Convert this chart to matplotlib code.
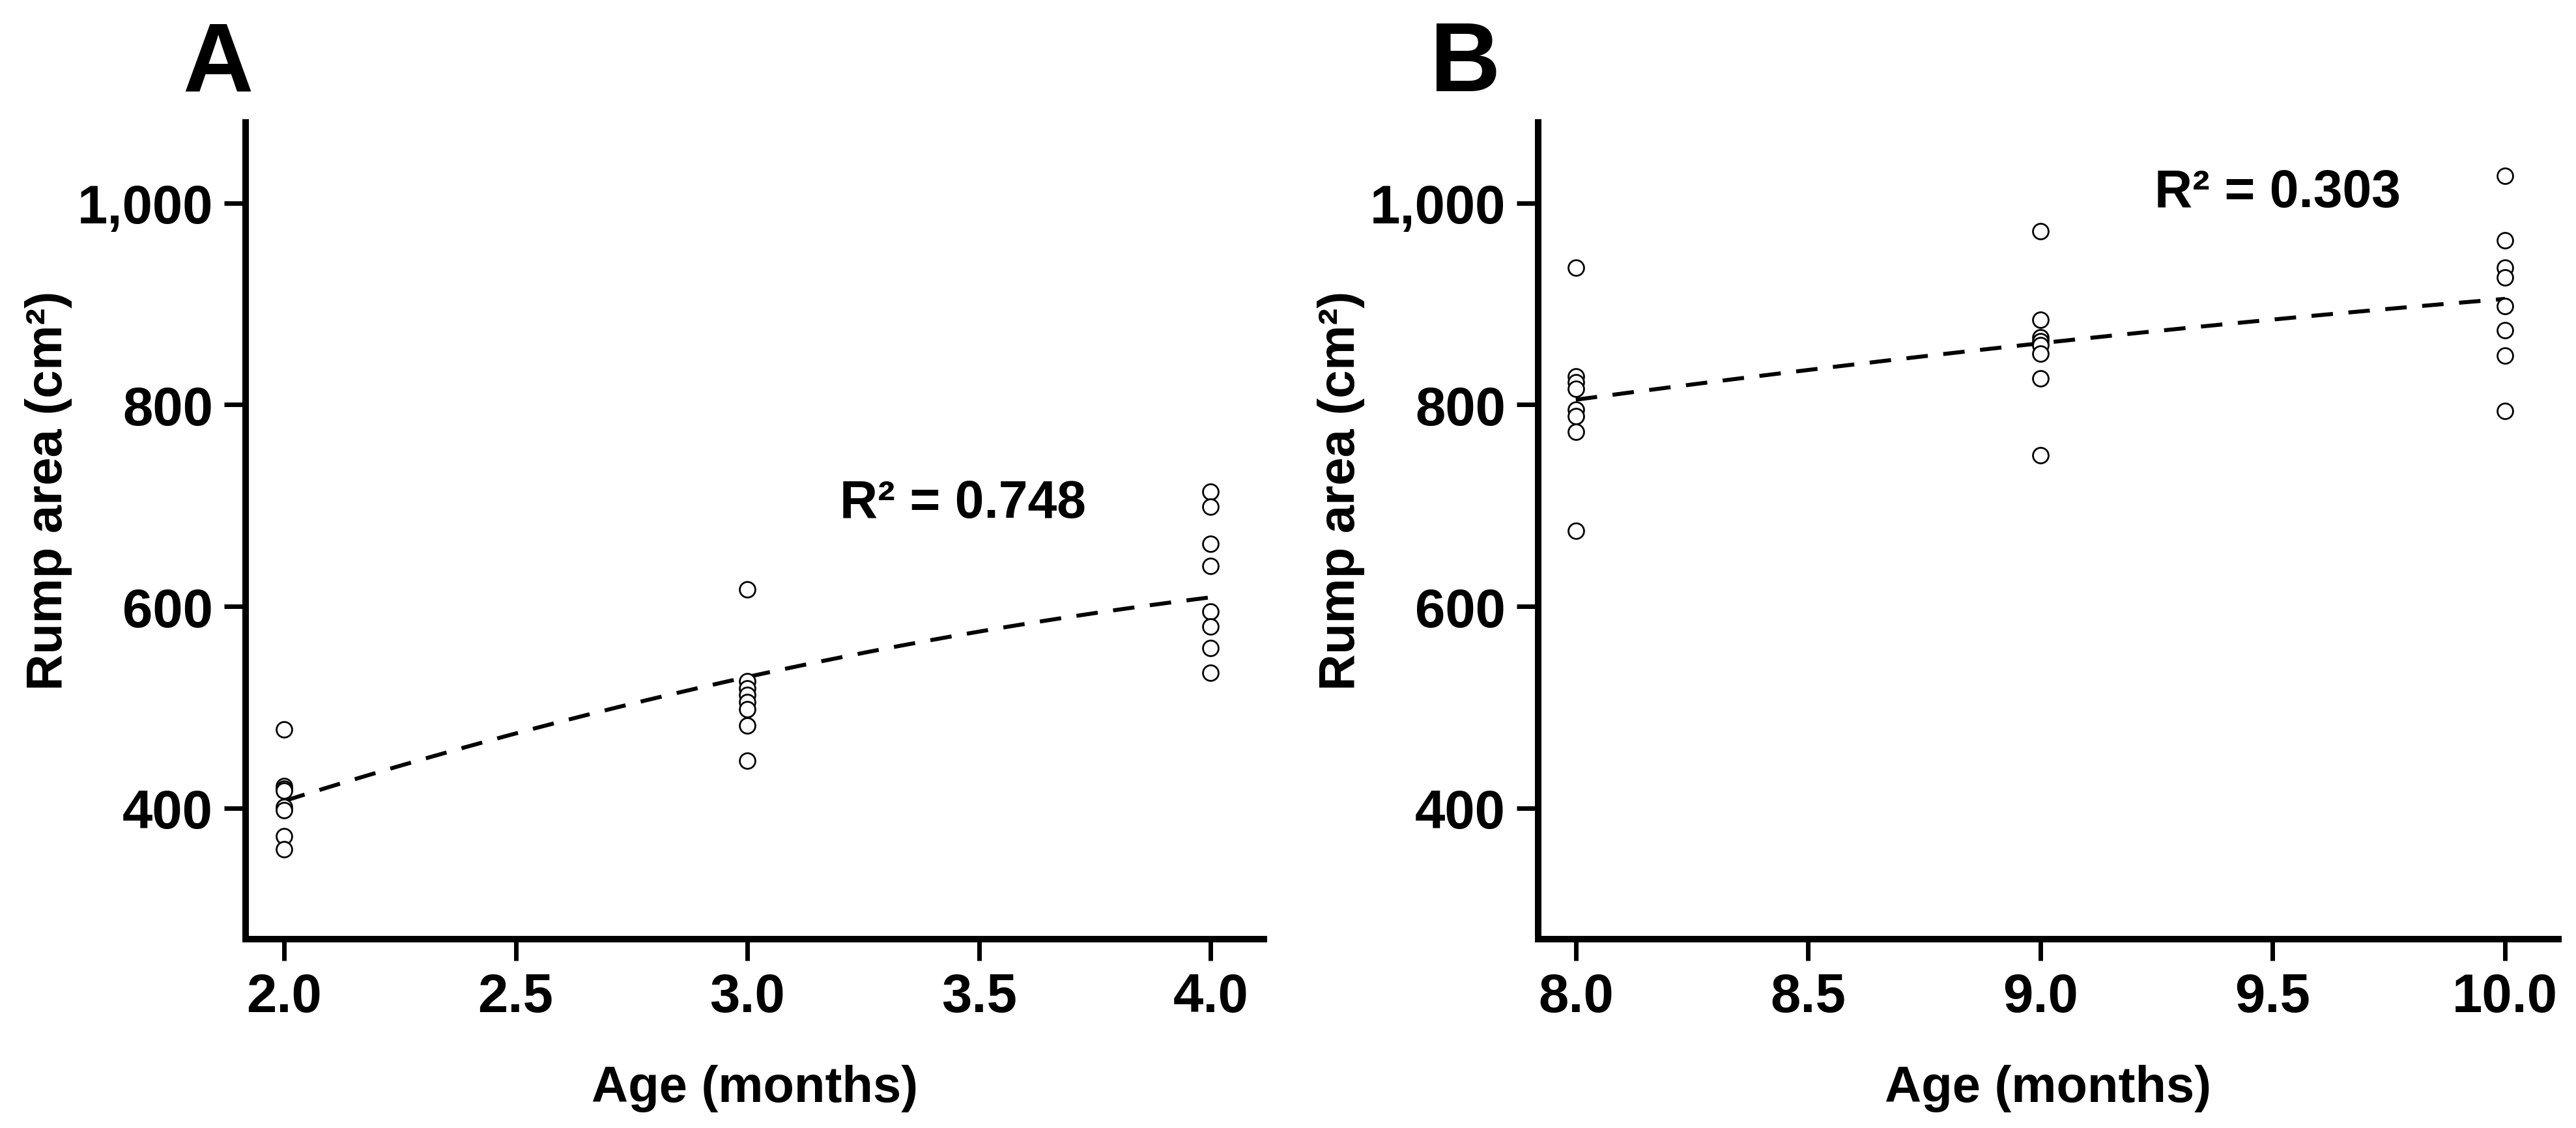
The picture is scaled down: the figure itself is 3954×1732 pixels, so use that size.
import matplotlib
matplotlib.use("Agg")
import matplotlib.pyplot as plt
import numpy as np

plt.rcParams['font.family'] = ['Liberation Sans', 'DejaVu Sans']
plt.rcParams['font.weight'] = 'bold'

# panel A: 2-4 months
ages_a = [2.0, 3.0, 4.0]
area_a_2 = [478, 422, 419, 417, 401, 398, 372, 359]
area_a_3 = [617, 526, 519, 512, 505, 498, 482, 447]
area_a_4 = [714, 699, 662, 640, 595, 580, 559, 534]
fit_a = [407, 530, 609]
r2_a = "0.748"

# panel B: 8-10 months
ages_b = [8.0, 9.0, 10.0]
area_b_8 = [936, 828, 822, 816, 795, 789, 773, 675]
area_b_9 = [972, 884, 867, 863, 859, 851, 826, 750]
area_b_10 = [1027, 963, 936, 926, 898, 874, 849, 794]
fit_b = [805, 861, 905]
r2_b = "0.303"

y_ticks = [400, 600, 800, 1000]
y_tick_labels = ["400", "600", "800", "1,000"]
x_ticks_a = [2.0, 2.5, 3.0, 3.5, 4.0]
x_ticks_b = [8.0, 8.5, 9.0, 9.5, 10.0]

FS = 28
TICK_FS = 30
W, H = 3954, 1733


def draw_panel(ax, ages, groups, fit, r2, xticks, xlim, r2_xy):
    for age, vals in zip(ages, groups):
        ax.plot([age] * len(vals), vals, linestyle="none", marker="o",
                markersize=8.6, markerfacecolor="white",
                markeredgecolor="black", markeredgewidth=1.0, zorder=3)

    # fitted curve through the read-off fit values
    coef = np.polyfit(ages, fit, 2)
    xs = np.linspace(ages[0], ages[-1], 200)
    ax.plot(xs, np.polyval(coef, xs), color="black", linewidth=2.2,
            dashes=(5.4, 3.9), zorder=2)

    ax.text(r2_xy[0], r2_xy[1], "R\u00b2 = " + r2, fontsize=FS + 1,
            fontweight="bold", ha="left", va="center")

    ax.set_xlim(*xlim)
    ax.set_ylim(270, 1080)
    ax.set_xticks(xticks)
    ax.set_xticklabels(["%.1f" % t for t in xticks])
    ax.set_yticks(y_ticks)
    ax.set_yticklabels(y_tick_labels)

    for s in ["top", "right"]:
        ax.spines[s].set_visible(False)
    for s in ["left", "bottom"]:
        ax.spines[s].set_linewidth(3.6)

    ax.tick_params(direction="out", length=12, width=2.5, pad=6,
                   labelsize=TICK_FS)
    ax.set_xlabel("Age (months)", fontsize=FS, fontweight="bold")
    ax.set_ylabel("Rump area (cm\u00b2)", fontsize=FS, fontweight="bold")
    ax.xaxis.set_label_coords(0.5, -0.153)
    ax.yaxis.set_label_coords(-0.17, 0.55)


fig = plt.figure(figsize=(W / 200, H / 200), dpi=200)

bottom = (H - 1443) / H
height = (1443 - 189) / H
ax_a = fig.add_axes([377 / W, bottom, (1940 - 377) / W, height])
ax_b = fig.add_axes([2361 / W, bottom, (3927 - 2361) / W, height])

draw_panel(ax_a, ages_a, [area_a_2, area_a_3, area_a_4], fit_a, r2_a,
           x_ticks_a, (1.917, 4.115), (3.20, 702))
draw_panel(ax_b, ages_b, [area_b_8, area_b_9, area_b_10], fit_b, r2_b,
           x_ticks_b, (7.919, 10.115), (9.245, 1010))

fig.text(280 / W, 1 - 140 / H, "A", fontsize=54, fontweight="bold",
         ha="left", va="baseline")
fig.text(2195 / W, 1 - 140 / H, "B", fontsize=54, fontweight="bold",
         ha="left", va="baseline")

fig.savefig("out.png", dpi=200, facecolor="white")
